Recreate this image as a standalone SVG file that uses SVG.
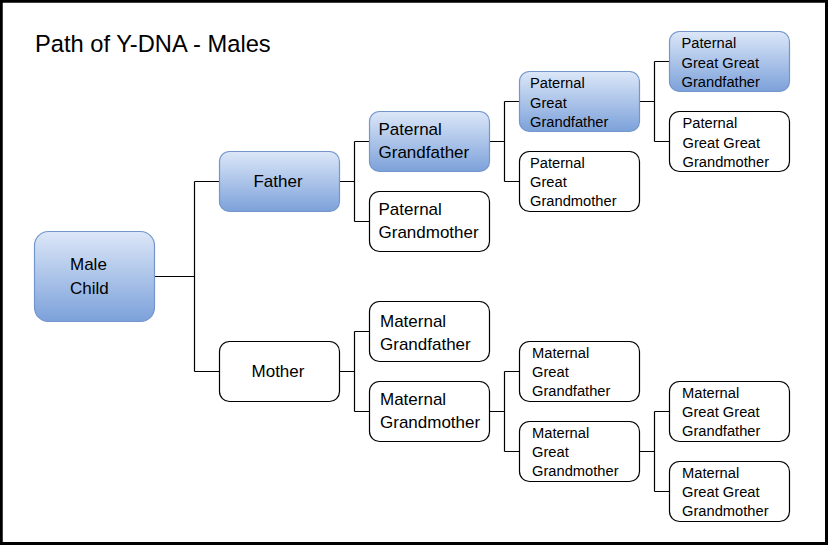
<svg xmlns="http://www.w3.org/2000/svg" width="828" height="545" viewBox="0 0 828 545">
<defs>
<linearGradient id="blue" x1="0" y1="0" x2="0" y2="1">
<stop offset="0" stop-color="#dce7f8"/>
<stop offset="1" stop-color="#7ca1da"/>
</linearGradient>
<style>
.b{fill:url(#blue);stroke:#7596cc;stroke-width:1.2}
.w{fill:#fff;stroke:#000;stroke-width:1.2}
text{font-family:"Liberation Sans",Arial,sans-serif;fill:#000}
.m{font-size:17px}
.s{font-size:14.7px}
.c{text-anchor:middle}
.ln{fill:none;stroke:#000;stroke-width:1.2}
</style>
</defs>
<rect x="1.25" y="1.25" width="825.25" height="542.25" fill="#fff" stroke="#000" stroke-width="3"/>
<text x="35" y="52" font-size="23.7">Path of Y-DNA - Males</text>
<g id="connectors" class="ln">
<path d="M154.5 276.5H194.5M194.5 181.5V371.5M194.5 181.5H219.5M194.5 371.5H219.5"/>
<path d="M339.5 181.5H354.5M354.5 141.5V221.5M354.5 141.5H369.5M354.5 221.5H369.5"/>
<path d="M489.5 141.5H504.5M504.5 101.5V181.5M504.5 101.5H519.5M504.5 181.5H519.5"/>
<path d="M639.5 101.5H654.5M654.5 61.5V141.5M654.5 61.5H669.5M654.5 141.5H669.5"/>
<path d="M339.5 371.5H354.5M354.5 331.5V411.5M354.5 331.5H369.5M354.5 411.5H369.5"/>
<path d="M489.5 411.5H504.5M504.5 371.5V451.5M504.5 371.5H519.5M504.5 451.5H519.5"/>
<path d="M639.5 451.5H654.5M654.5 411.5V491.5M654.5 411.5H669.5M654.5 491.5H669.5"/>
</g>
<g id="male-child"><rect class="b" x="34.5" y="231.5" width="120" height="90" rx="14"/>
<text class="m" x="70" y="270">Male</text><text class="m" x="70" y="294">Child</text></g>
<g id="father"><rect class="b" x="219.5" y="151.5" width="120" height="60" rx="10"/>
<text class="m c" x="278" y="187">Father</text></g>
<g id="mother"><rect class="w" x="219.5" y="341.5" width="120" height="60" rx="10"/>
<text class="m c" x="278" y="377">Mother</text></g>
<g id="paternal-grandfather"><rect class="b" x="369.5" y="111.5" width="120" height="60" rx="10"/>
<text class="m" x="378.5" y="135">Paternal</text><text class="m" x="378.5" y="158">Grandfather</text></g>
<g id="paternal-grandmother"><rect class="w" x="369.5" y="191.5" width="120" height="60" rx="10"/>
<text class="m" x="378.5" y="215">Paternal</text><text class="m" x="378.5" y="238">Grandmother</text></g>
<g id="paternal-great-grandfather"><rect class="b" x="519.5" y="71.5" width="120" height="60" rx="10"/>
<text class="s" x="530" y="88">Paternal</text><text class="s" x="530" y="107.5">Great</text><text class="s" x="530" y="126.5">Grandfather</text></g>
<g id="paternal-great-grandmother"><rect class="w" x="519.5" y="151.5" width="120" height="60" rx="10"/>
<text class="s" x="530" y="167.5">Paternal</text><text class="s" x="530" y="187">Great</text><text class="s" x="530" y="206">Grandmother</text></g>
<g id="paternal-gg-grandfather"><rect class="b" x="669.5" y="31.5" width="120" height="60" rx="10"/>
<text class="s" x="681.5" y="48">Paternal</text><text class="s" x="681.5" y="68">Great Great</text><text class="s" x="681.5" y="87">Grandfather</text></g>
<g id="paternal-gg-grandmother"><rect class="w" x="669.5" y="111.5" width="120" height="60" rx="10"/>
<text class="s" x="682.5" y="127.5">Paternal</text><text class="s" x="682.5" y="147.5">Great Great</text><text class="s" x="682.5" y="166.5">Grandmother</text></g>
<g id="maternal-grandfather"><rect class="w" x="369.5" y="301.5" width="120" height="60" rx="10"/>
<text class="m" x="380" y="327">Maternal</text><text class="m" x="380" y="350">Grandfather</text></g>
<g id="maternal-grandmother"><rect class="w" x="369.5" y="381.5" width="120" height="60" rx="10"/>
<text class="m" x="380" y="405">Maternal</text><text class="m" x="380" y="428">Grandmother</text></g>
<g id="maternal-great-grandfather"><rect class="w" x="519.5" y="341.5" width="120" height="60" rx="10"/>
<text class="s" x="532" y="357.5">Maternal</text><text class="s" x="532" y="377">Great</text><text class="s" x="532" y="396">Grandfather</text></g>
<g id="maternal-great-grandmother"><rect class="w" x="519.5" y="421.5" width="120" height="60" rx="10"/>
<text class="s" x="532" y="437.5">Maternal</text><text class="s" x="532" y="457">Great</text><text class="s" x="532" y="476">Grandmother</text></g>
<g id="maternal-gg-grandfather"><rect class="w" x="669.5" y="381.5" width="120" height="60" rx="10"/>
<text class="s" x="682" y="397.5">Maternal</text><text class="s" x="682" y="417">Great Great</text><text class="s" x="682" y="436">Grandfather</text></g>
<g id="maternal-gg-grandmother"><rect class="w" x="669.5" y="461.5" width="120" height="60" rx="10"/>
<text class="s" x="682" y="477.5">Maternal</text><text class="s" x="682" y="497">Great Great</text><text class="s" x="682" y="516">Grandmother</text></g>
</svg>
